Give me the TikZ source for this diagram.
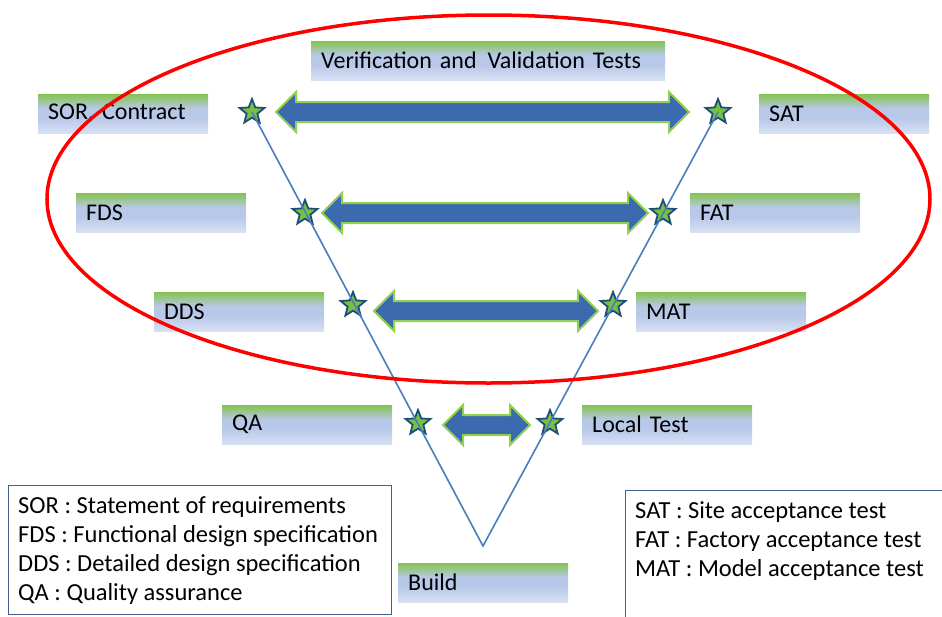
\documentclass[tikz,border=0pt]{standalone}
\usepackage{fontspec}
\setmainfont{Carlito}
\usetikzlibrary{shapes.geometric}
\definecolor{lgreen}{HTML}{84C44E}
\definecolor{lmid}{HTML}{B8C8E8}
\definecolor{lbot}{HTML}{D8E1F3}
\definecolor{arrfill}{HTML}{3B6AAE}
\definecolor{arrline}{HTML}{92D050}
\definecolor{starfill}{HTML}{78C043}
\definecolor{starline}{HTML}{1F4E79}
\definecolor{vcol}{HTML}{4A7EBB}
\definecolor{legline}{HTML}{41628F}
\pgfdeclareverticalshading{lblshade}{100bp}{color(0bp)=(lbot); color(25bp)=(lbot); color(45bp)=(lmid); color(57bp)=(lmid); color(75bp)=(lgreen); color(100bp)=(lgreen)}
\newcommand\dblarrow[3]{%
  \filldraw[arrow box] (#1,#3) -- ({#1+20},{#3-20}) -- ({#1+20},{#3-10}) -- ({#2-20},{#3-10}) -- ({#2-20},{#3-20}) -- (#2,#3) -- ({#2-20},{#3+20}) -- ({#2-20},{#3+10}) -- ({#1+20},{#3+10}) -- ({#1+20},{#3+20}) -- cycle;}
\tikzset{
  lbl/.style={shading=lblshade, rectangle, minimum height=39pt, minimum width=170pt, text width=150pt, inner xsep=10pt, inner ysep=0pt, align=left, anchor=north west, font=\fontsize{24}{28}\selectfont},
  arrow box/.style={fill=arrfill, draw=arrline, line width=2pt, line join=miter},
  vstar/.style={star, star points=5, star point ratio=2.3, minimum size=26pt, inner sep=0pt, fill=starfill, draw=starline, line width=1.8pt},
  vline/.style={draw=vcol, line width=1.6pt},
  legtext/.style={align=left, inner sep=0pt, anchor=base west, font=\fontsize{24.5}{29}\selectfont},
  legbox/.style={draw=legline, line width=1pt}
}
\begin{document}
\begin{tikzpicture}[x=1pt, y=-1pt]
\useasboundingbox (0,0) rectangle (942,616);
% labels
\node[lbl, minimum width=354pt, text width=334pt] (vv) at (311,41) {Verification and\hspace{3pt} Validation Tests};
\node[lbl] (sor) at (38,94) {SOR, Contract};
\node[lbl] (sat) at (759,94) {SAT};
\node[lbl] (fds) at (76,193) {FDS};
\node[lbl] (fat) at (690,193) {FAT};
\node[lbl] (dds) at (154,292) {DDS};
\node[lbl] (mat) at (636,292) {MAT};
\node[lbl] (qa) at (222,405) {QA};
\node[lbl] (lt) at (582,405) {Local Test};
\node[lbl] (build) at (398,563) {Build};
% double arrows
\dblarrow{276}{689}{112}
\dblarrow{322}{648}{213}
\dblarrow{374}{598}{311}
\dblarrow{443}{530}{425}
% stars
\node[vstar] (l1) at (252,112) {};
\node[vstar] (r1) at (718,112) {};
\node[vstar] (l2) at (305,213) {};
\node[vstar] (r2) at (663,213) {};
\node[vstar] (l3) at (353,305) {};
\node[vstar] (r3) at (613,305) {};
\node[vstar] (l4) at (418,423) {};
\node[vstar] (r4) at (550,423) {};
\coordinate (vb) at (483,546);
\draw[vline] (l1.center) -- (vb) -- (r1.center);
% legends
\draw[legbox] (8,485) rectangle (391,614);
\node[legtext] (legl) at (18,600) {SOR : Statement of requirements\\FDS : Functional design specification\\DDS : Detailed design specification\\QA : Quality assurance};
\draw[legbox] (625,490) rectangle (960,640);
\node[legtext] (legr) at (635,576) {SAT : Site acceptance test\\FAT : Factory acceptance test\\MAT : Model acceptance test};
% red ellipse
\draw[red, line width=3.5pt] (488.5,199) ellipse [x radius=441.5pt, y radius=184pt];
\end{tikzpicture}
\end{document}
